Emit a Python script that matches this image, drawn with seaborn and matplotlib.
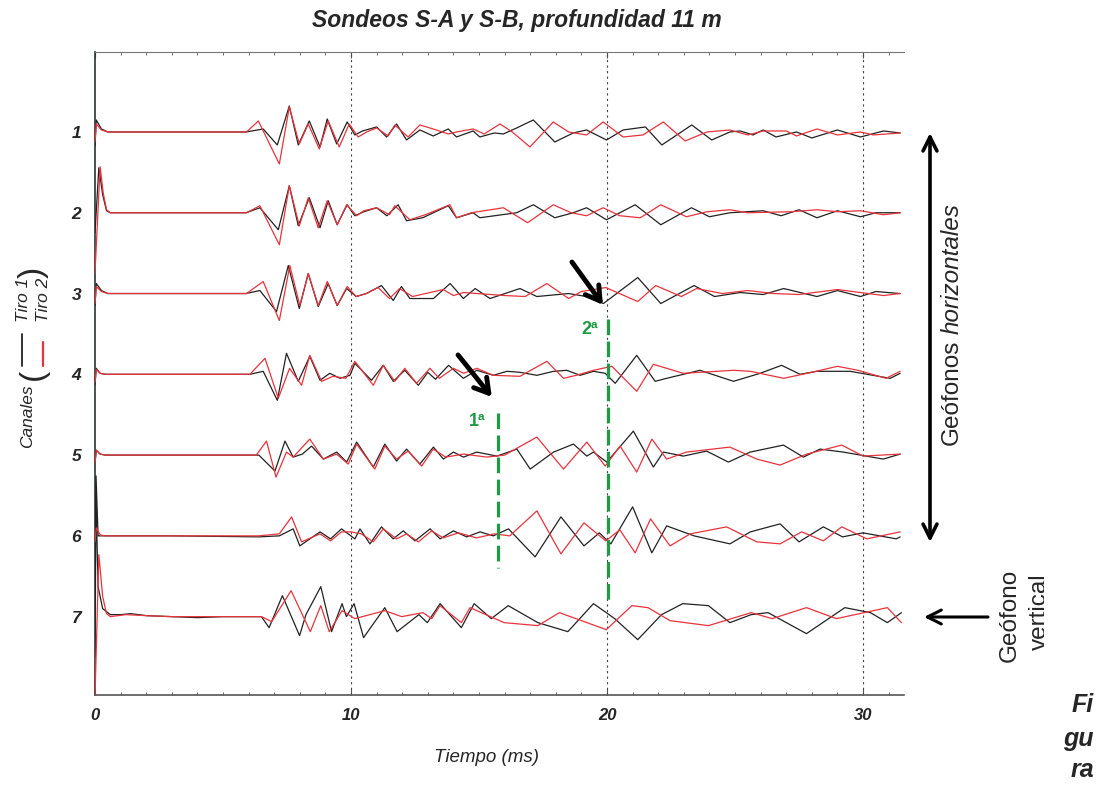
import matplotlib
matplotlib.use("Agg")
import matplotlib.pyplot as plt
import numpy as np
import pandas as pd
import seaborn as sns
from matplotlib.lines import Line2D
from matplotlib.ticker import MultipleLocator
from matplotlib.transforms import Bbox, TransformedBbox

# ---------------------------------------------------------------------------
# Registros (tiempo en ms, amplitud en cuentas) para cada canal y cada tiro
# ---------------------------------------------------------------------------
CANAL1_TIRO1 = [(0.0, -14), (0.05, 12), (0.25, 3), (0.5, 0), (3.0, 0), (5.9, 0), (6.57, 3), (7.12, -13),
                (7.59, 26), (7.94, -13), (8.37, 11), (8.79, -15), (9.07, 13), (9.44, -12), (9.85, 10),
                (10.15, -3), (10.45, 1), (11.0, 5), (11.39, -5), (11.78, 8), (12.17, -8), (12.69, 2),
                (13.21, -4), (13.8, 3), (14.12, -5), (14.77, 1), (15.03, -5), (15.6, -1), (15.95, -2),
                (16.47, 4), (17.12, 12), (17.96, -10), (18.68, -1), (19.2, 2), (19.98, -8), (20.63, 2),
                (21.5, 5), (22.14, -13), (23.31, 7), (24.09, -8), (24.8, 0), (25.2, 1), (25.7, -3),
                (26.1, 2), (26.6, -5), (27.4, 0), (28.0, -6), (29.0, 2), (29.9, -5), (30.8, 1), (31.45, -1)]
CANAL1_TIRO2 = [(0.0, -10), (0.05, 8), (0.25, 2), (0.5, 0), (3.0, 0), (5.92, 0), (6.38, 11), (7.2, -32),
                (7.59, 25), (7.98, -12), (8.33, 8), (8.76, -17), (9.11, 11), (9.54, -15), (9.93, 8),
                (10.28, -5), (10.61, 0), (11.0, 4), (11.45, -4), (11.71, 7), (12.23, -5), (12.69, 7),
                (13.21, 3), (13.8, -2), (14.12, 0), (14.77, 3), (15.2, -2), (15.82, 8), (16.3, 0),
                (16.99, -15), (17.9, 10), (18.5, 0), (19.2, -3), (19.85, 10), (20.63, -5), (21.4, -3),
                (22.2, 10), (23.05, -9), (23.9, 0), (24.8, 2), (25.5, -3), (26.1, 1), (27.0, 1), (27.4, -4),
                (28.2, 3), (29.0, -3), (29.9, 0), (30.4, -3), (31.45, -1)]

CANAL2_TIRO1 = [(0.0, -20), (0.15, 45), (0.3, 18), (0.45, 2), (0.6, 0), (3.0, 0), (5.9, 0), (6.44, 5),
                (7.16, -17), (7.59, 27), (7.94, -13), (8.37, 15), (8.79, -15), (9.11, 12), (9.46, -12),
                (9.85, 8), (10.15, -3), (10.5, 1), (11.0, 5), (11.4, -3), (11.84, 8), (12.17, -8), (12.8, -5),
                (13.8, 7), (14.12, -5), (14.77, 0), (15.03, -5), (16.47, 0), (17.12, 8), (17.96, -5),
                (18.68, 0), (19.2, 5), (19.98, -7), (21.1, 8), (22.1, -12), (23.3, 5), (24.0, -4), (24.8, 0),
                (26.1, 2), (26.8, -3), (27.5, 3), (28.2, -5), (29.0, 2), (29.9, -4), (30.5, 0), (31.45, 0)]
CANAL2_TIRO2 = [(0.0, -60), (0.2, 46), (0.32, 20), (0.45, 3), (0.6, 0), (3.0, 0), (5.92, 0), (6.44, 7),
                (7.2, -32), (7.59, 27), (7.98, -13), (8.33, 15), (8.72, -15), (9.07, 12), (9.46, -12),
                (9.83, 8), (10.22, -3), (10.5, 2), (11.0, 5), (11.5, -2), (11.71, 7), (12.3, -7), (12.9, -2),
                (13.86, 8), (14.12, -5), (14.7, 0), (15.95, 5), (16.9, -10), (17.9, 8), (18.6, 0), (19.2, -3),
                (19.85, 5), (20.5, -3), (21.3, -5), (22.1, 8), (23.1, -4), (23.9, 1), (24.8, 3), (25.5, 0),
                (27.2, 1), (28.2, 3), (29.0, 1), (29.9, 2), (30.8, -2), (31.45, 0)]

CANAL3_TIRO1 = [(0.0, -12), (0.05, 10), (0.25, 3), (0.5, 0), (3.0, 0), (5.9, 0), (6.44, 3), (7.09, -18),
                (7.55, 28), (7.98, -15), (8.33, 20), (8.72, -13), (9.11, 10), (9.46, -12), (9.83, 5),
                (10.2, -3), (10.6, 0), (11.19, 8), (11.65, -7), (11.97, 7), (12.3, -5), (13.22, -5),
                (13.87, 10), (14.39, -5), (14.85, 5), (15.43, -5), (16.6, 5), (17.26, -3), (18.5, 0),
                (19.2, -3), (19.86, -10), (21.2, 16), (22.1, -10), (23.4, 8), (24.2, -3), (25.2, 1),
                (26.1, -1), (26.9, 5), (28.2, -3), (29.0, 3), (29.9, -3), (30.5, 2), (31.45, 0)]
CANAL3_TIRO2 = [(0.0, -10), (0.05, 7), (0.25, 2), (0.5, 0), (3.0, 0), (5.92, 0), (6.57, 12), (7.2, -27),
                (7.61, 28), (8.0, -12), (8.33, 20), (8.72, -12), (9.07, 12), (9.46, -12), (9.85, 7),
                (10.2, -3), (10.6, 0), (11.06, 6), (11.5, -5), (11.9, 5), (12.4, -3), (13.6, 4), (14.0, -2),
                (14.4, 1), (16.0, -2), (16.8, -3), (17.65, 10), (18.5, -5), (19.0, 2), (19.95, 6),
                (21.2, -8), (21.9, 8), (22.9, -3), (23.5, 5), (24.5, 0), (25.5, 3), (26.5, 0), (27.5, -1),
                (29.0, 4), (30.8, -2), (31.45, 0)]

CANAL4_TIRO1 = [(0.0, -10), (0.05, 6), (0.2, 1), (0.4, 0), (3.0, 0), (6.05, 0), (6.57, 3), (7.12, -26),
                (7.48, 21), (7.94, -7), (8.39, 18), (8.79, -6), (9.17, 1), (9.57, -4), (9.96, -1),
                (10.15, 11), (10.8, -6), (11.26, 9), (11.65, -7), (12.1, 4), (12.63, -11), (13.0, 2),
                (13.3, -5), (13.81, 9), (14.39, -4), (14.91, 4), (15.56, -1), (16.09, 3), (16.6, 2),
                (17.26, -1), (17.91, 3), (18.43, 4), (18.95, -1), (19.47, 3), (19.93, 1), (20.32, -9),
                (21.16, 19), (21.88, -7), (22.33, -4), (23.63, 4), (24.94, -7), (25.98, 1), (26.82, 9),
                (27.54, 0), (28.19, 3), (29.49, 3), (31.06, -4), (31.45, 1)]
CANAL4_TIRO2 = [(0.0, -8), (0.05, 5), (0.2, 1), (0.4, 0), (3.0, 0), (6.05, 0), (6.64, 16), (7.16, -24),
                (7.6, 6), (8.07, -11), (8.39, 19), (8.85, -7), (9.3, -2), (9.8, -4), (10.15, 13),
                (10.87, -11), (11.26, 9), (11.71, -7), (12.1, 6), (12.56, -9), (13.08, 6), (13.45, -4),
                (14.0, 6), (14.4, 1), (14.91, 6), (15.56, -1), (16.6, -2), (17.65, 13), (18.3, -4),
                (18.8, -1), (19.47, 4), (20.19, 8), (21.16, -17), (21.81, 10), (22.98, 1), (24.94, 4),
                (25.6, 3), (26.9, -4), (28.0, 2), (29.0, 8), (29.8, 4), (30.9, -4), (31.45, 3)]

CANAL5_TIRO1 = [(0.0, -8), (0.05, 5), (0.2, 1), (0.4, 0), (3.0, 0), (6.4, 0), (7.03, -16), (7.42, 14),
                (7.74, -2), (8.1, 1), (8.46, 9), (8.92, -4), (9.44, 3), (9.83, -7), (10.22, 13),
                (10.87, -12), (11.32, 11), (11.78, -6), (12.17, 6), (12.69, -9), (13.22, 8), (13.61, -4),
                (14.0, 3), (14.39, -2), (14.91, 3), (15.7, -1), (16.48, 6), (17.0, -14), (17.91, 3),
                (18.69, 11), (19.21, -1), (19.47, 3), (19.99, -7), (21.03, 24), (21.81, -12), (22.2, 3),
                (22.98, -1), (23.89, 4), (24.74, -7), (25.59, 3), (26.89, 10), (27.67, -2), (28.32, 6),
                (29.23, 3), (30.79, -4), (31.45, 1)]
CANAL5_TIRO2 = [(0.0, -8), (0.05, 5), (0.2, 1), (0.4, 0), (3.0, 0), (6.3, 0), (6.7, 14), (7.07, -22),
                (7.48, 3), (7.74, -2), (8.39, 16), (8.92, -4), (9.44, 1), (9.89, -9), (10.22, 11),
                (10.93, -14), (11.32, 9), (11.78, -4), (12.23, 4), (12.76, -11), (13.21, 6), (13.7, -2),
                (14.4, 1), (15.3, -2), (16.0, 0), (17.26, 18), (18.3, -14), (19.21, 13), (19.93, -11),
                (20.51, 9), (21.16, -17), (21.75, 16), (22.33, -4), (23.1, 3), (24.8, 8), (25.85, -4),
                (26.76, -10), (27.8, 1), (29.17, 10), (30.0, -1), (31.45, 1)]

CANAL6_TIRO1 = [(0.0, -12), (0.04, 60), (0.12, 0), (0.5, 0), (3.0, 0), (6.4, -1), (7.2, 0), (7.74, 7),
                (8.0, -10), (8.79, 4), (9.2, -3), (9.63, 7), (10.15, -3), (10.35, 7), (10.74, -8),
                (11.19, 9), (11.65, -3), (12.04, 5), (12.5, -5), (13.09, 7), (13.48, -3), (14.0, 5),
                (14.52, -1), (15.04, 4), (15.56, 0), (16.15, 7), (17.19, -21), (18.2, 19), (19.1, -10),
                (19.7, 3), (20.15, -8), (21.0, 29), (21.75, -17), (22.33, 10), (23.4, 0), (24.8, -8),
                (25.6, 4), (26.76, 12), (27.5, -6), (28.45, 9), (29.2, -1), (30.0, 3), (31.3, -3),
                (31.45, -1)]
CANAL6_TIRO2 = [(0.0, -6), (0.05, 8), (0.2, 1), (0.4, 0), (3.0, 0), (6.4, 0), (7.2, 2), (7.68, 19),
                (8.07, -6), (8.79, 2), (9.2, -5), (9.63, 4), (10.0, 4), (10.4, 2), (10.87, -6), (11.26, 7),
                (11.78, -3), (12.17, 2), (12.63, -6), (13.15, 5), (13.6, -2), (14.2, 3), (14.9, -2),
                (15.6, 2), (16.2, 0), (17.26, 25), (18.2, -18), (19.1, 13), (19.95, -5), (20.5, 6),
                (21.1, -17), (21.7, 17), (22.46, -10), (23.25, 2), (24.67, 9), (25.85, -6), (26.76, -8),
                (27.6, 4), (28.45, -5), (29.17, 9), (30.15, -3), (31.45, 4)]

CANAL7_TIRO1 = [(0.0, -40), (0.04, 120), (0.12, 30), (0.3, 8), (0.6, 2), (1.0, 2), (1.4, 3), (2.0, 1),
                (3.0, 0), (4.0, -1), (5.0, 0), (6.5, 0), (6.8, -11), (7.32, 21), (7.99, -19), (8.24, 2),
                (8.82, 30), (9.24, -15), (9.65, 13), (9.82, 0), (10.12, 13), (10.49, -21), (11.32, 9),
                (11.8, -15), (12.65, 2), (12.98, -6), (13.48, 13), (14.31, -11), (14.81, 13), (15.48, -2),
                (16.14, 11), (17.3, -6), (18.47, -15), (19.47, 13), (19.97, 4), (20.3, -2), (21.2, -23),
                (22.13, 2), (22.96, 13), (23.96, 11), (24.8, -6), (25.63, 2), (26.29, 4), (27.79, -17),
                (29.29, 9), (30.29, 4), (30.95, -6), (31.5, 4)]
CANAL7_TIRO2 = [(0.0, -80), (0.15, 62), (0.3, 20), (0.45, 3), (0.6, 0), (1.2, 2), (2.0, 1), (3.0, 0),
                (6.5, 0), (6.9, -5), (7.66, 26), (8.41, -15), (8.82, 11), (9.15, -15), (9.65, 6),
                (10.15, -2), (11.32, 6), (11.98, 0), (12.81, 4), (13.15, -2), (13.48, 11), (14.31, -6),
                (14.65, 9), (15.98, -6), (17.3, -9), (18.14, 4), (19.97, -13), (20.97, 11), (21.6, 9),
                (22.46, -4), (23.96, -9), (25.63, 4), (26.45, -2), (27.79, 9), (28.96, -2), (30.95, 9),
                (31.5, -6)]

CANALES = [1, 2, 3, 4, 5, 6, 7]
TIRO1 = [CANAL1_TIRO1, CANAL2_TIRO1, CANAL3_TIRO1, CANAL4_TIRO1, CANAL5_TIRO1, CANAL6_TIRO1, CANAL7_TIRO1]
TIRO2 = [CANAL1_TIRO2, CANAL2_TIRO2, CANAL3_TIRO2, CANAL4_TIRO2, CANAL5_TIRO2, CANAL6_TIRO2, CANAL7_TIRO2]
TIROS = ["Tiro 1", "Tiro 2"]

# Llegadas de onda marcadas (ms)
LLEGADAS = [15.74, 20.04]
ETIQ_LLEGADAS = ["1ª", "2ª"]
MARCAS_TIEMPO = [0, 10, 20, 30]

# ---------------------------------------------------------------------------
# Estilo
# ---------------------------------------------------------------------------
sns.set_style("white")
plt.rcParams["font.family"] = ["Liberation Sans", "DejaVu Sans"]

NEGRO = "#222222"
ROJO = "#e8333c"
VERDE = "#1f9a45"
GANANCIA = 1 / 80.8          # separación entre trazas = 80.8 cuentas

W, H = 1099, 785
fig = plt.figure(figsize=(W / 100, H / 100), dpi=100)
ax = fig.add_axes([95 / W, 1 - 695 / H, (904 - 95) / W, (695 - 52) / H])


def fpx(x, y):
    """Coordenadas en píxeles (origen arriba-izquierda) -> fracción de figura."""
    return x / W, 1 - y / H


# ---------------------------------------------------------------------------
# Trazas
# ---------------------------------------------------------------------------
filas = []
for tiro, registros in zip(TIROS, [TIRO1, TIRO2]):
    for canal, puntos in zip(CANALES, registros):
        for t, a in puntos:
            filas.append({"t": t, "amp": a, "canal": canal, "tiro": tiro})
df = pd.DataFrame(filas)
df["y"] = df["canal"] - df["amp"] * GANANCIA

sns.lineplot(data=df, x="t", y="y", hue="tiro", units="canal", estimator=None,
             hue_order=TIROS, palette={"Tiro 1": NEGRO, "Tiro 2": ROJO},
             linewidth=0.9, legend=False, ax=ax, zorder=3)

# Líneas de referencia verticales punteadas
for t in MARCAS_TIEMPO[1:]:
    ax.axvline(t, color="#444444", lw=0.8, ls=(0, (2, 3)), zorder=1)

ax.set_xlim(0, 31.6)
ax.set_ylim(7.97, 0.01)
ax.set_xlabel("")
ax.set_ylabel("")

ax.set_yticks(CANALES)
ax.set_yticklabels([str(c) for c in CANALES])
ax.tick_params(axis="y", length=0, pad=10, labelsize=12.5)
ax.set_xticks(MARCAS_TIEMPO)
ax.set_xticklabels([str(m) for m in MARCAS_TIEMPO])
ax.xaxis.set_minor_locator(MultipleLocator(1))
ax.tick_params(axis="x", which="both", direction="in", top=True, bottom=True, color="#555555")
ax.tick_params(axis="x", which="major", length=4, width=0.8, pad=9, labelsize=12)
ax.tick_params(axis="x", which="minor", length=2.5, width=0.6)
for lbl in ax.get_xticklabels() + ax.get_yticklabels():
    lbl.set_fontstyle("italic")
    lbl.set_fontweight("bold")

for lado in ["left", "bottom", "top"]:
    ax.spines[lado].set_visible(True)
    ax.spines[lado].set_linewidth(1.2)
ax.spines["left"].set_color("#2a3434")
ax.spines["bottom"].set_color("#555555")
ax.spines["top"].set_color("#777777")
ax.spines["top"].set_linewidth(0.8)
ax.spines["right"].set_visible(False)

# ---------------------------------------------------------------------------
# Llegadas marcadas
# ---------------------------------------------------------------------------
ax.vlines(LLEGADAS[0], 4.48, 6.40, colors=VERDE, lw=2.3, linestyles=[(0, (4.9, 2.0))], zorder=4)
ax.vlines(LLEGADAS[1], 3.32, 6.79, colors=VERDE, lw=2.3, linestyles=[(0, (4.9, 2.0))], zorder=4)
ax.text(LLEGADAS[0] - 0.82, 4.58, ETIQ_LLEGADAS[0], color=VERDE, fontsize=13, fontweight="bold",
        ha="center", va="center")
ax.text(LLEGADAS[1] - 0.70, 3.45, ETIQ_LLEGADAS[1], color=VERDE, fontsize=13, fontweight="bold",
        ha="center", va="center")

flecha = dict(arrowstyle="->,head_length=1.0,head_width=0.6", lw=3.5, color="black",
              shrinkA=0, shrinkB=0)
ax.annotate("", xy=(LLEGADAS[0] - 0.24, 4.28), xytext=(LLEGADAS[0] - 1.56, 3.76), arrowprops=flecha)
ax.annotate("", xy=(LLEGADAS[1] - 0.20, 3.14), xytext=(LLEGADAS[1] - 1.41, 2.61), arrowprops=flecha)

# ---------------------------------------------------------------------------
# Textos y anotaciones exteriores
# ---------------------------------------------------------------------------
fig.text(*fpx(517, 21), "Sondeos S-A y S-B, profundidad 11 m", fontsize=16.5, fontweight="bold",
         fontstyle="italic", ha="center", va="center")
fig.text(*fpx(486, 758), "Tiempo (ms)", fontsize=13.5, fontstyle="italic", ha="center", va="center")

# Rótulo del eje vertical con la clave de colores
fig.text(*fpx(28, 416), "Canales", rotation=90, fontsize=12.5, fontstyle="italic", ha="center", va="center")
fig.text(*fpx(33, 374), "(", rotation=90, fontsize=24, fontweight="light", ha="center", va="center")
fig.text(*fpx(33, 272), ")", rotation=90, fontsize=24, fontweight="light", ha="center", va="center")
fig.text(*fpx(23, 300), "Tiro 1", rotation=90, fontsize=12.5, fontstyle="italic", ha="center", va="center")
fig.text(*fpx(43, 300), "Tiro 2", rotation=90, fontsize=12.5, fontstyle="italic", ha="center", va="center")
fig.add_artist(Line2D([22 / W, 22 / W], [1 - 334 / H, 1 - 366 / H], color=NEGRO, lw=1.3))
fig.add_artist(Line2D([43 / W, 43 / W], [1 - 342 / H, 1 - 366 / H], color=ROJO, lw=1.6))

# Geófonos horizontales (canales 1-6) y vertical (canal 7)
ax.annotate("", xy=(930, H - 133), xytext=(930, H - 542), xycoords="figure pixels",
            textcoords="figure pixels",
            arrowprops=dict(arrowstyle="<->,head_length=1.0,head_width=0.5", lw=2.6, color="black",
                            shrinkA=0, shrinkB=0))
fig.text(*fpx(952, 392), "Geófonos", rotation=90, fontsize=17.5, ha="center", va="center")
fig.text(*fpx(952, 269), "horizontales", rotation=90, fontsize=17.5, fontstyle="italic",
         ha="center", va="center")

ax.annotate("", xy=(924, H - 617), xytext=(988, H - 617), xycoords="figure pixels",
            textcoords="figure pixels",
            arrowprops=dict(arrowstyle="->,head_length=1.0,head_width=0.5", lw=2.2, color="black",
                            shrinkA=0, shrinkB=0))
fig.text(*fpx(1010, 615), "Geófono", rotation=90, fontsize=17.5, ha="center", va="center")
t_vert = fig.text(*fpx(1029, 612), "vertical", rotation=90, fontsize=17.5, ha="left", va="center")
t_vert.set_clip_box(TransformedBbox(Bbox.from_extents(0, 0, 1044 / W, 1), fig.transFigure))
t_vert.set_clip_on(True)

for palabra, yy in zip(["Fi", "gu", "ra"], [705, 739, 770]):
    fig.text(*fpx(1094, yy), palabra, fontsize=18, fontweight="bold", fontstyle="italic",
             ha="right", va="center")

fig.savefig("out.png", dpi=100, facecolor="white")
